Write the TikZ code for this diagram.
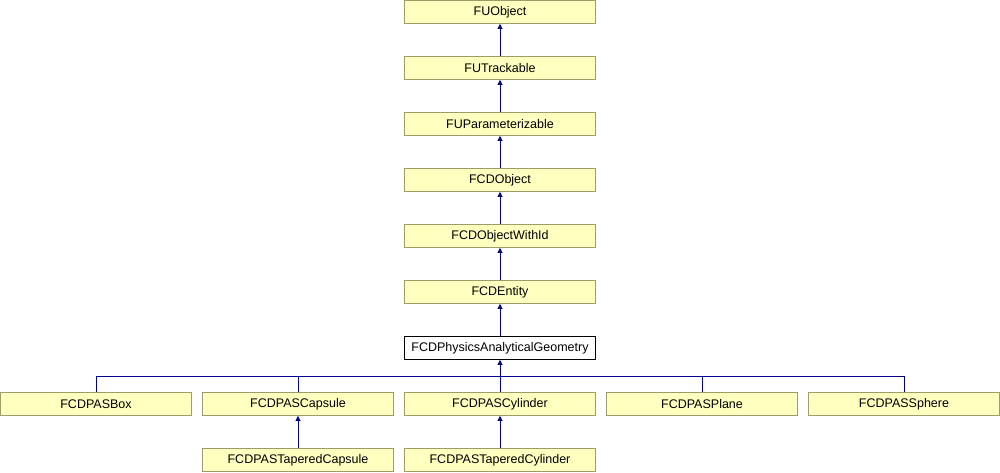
\documentclass[tikz,border=0pt]{standalone}
\usepackage{fontspec}
\setmainfont{Liberation Sans}
\usetikzlibrary{arrows.meta, positioning, calc}
\definecolor{boxfill}{RGB}{255,255,192}
\definecolor{boxline}{RGB}{156,156,104}
\definecolor{linkblue}{RGB}{0,0,140}

\begin{document}
\begin{tikzpicture}[
  x=1pt, y=1pt,
  node distance=32.1pt and 10.1pt,
  every node/.style={font=\fontsize{12.5}{14}\selectfont},
  cls/.style={draw=boxline, fill=boxfill, minimum width=191pt, minimum height=23pt,
              inner sep=0pt, line width=0.9pt},
  focus/.style={cls, draw=black, fill=white},
  arr/.style={-{Triangle[length=5pt, width=5pt]}, draw=linkblue, line width=0.9pt},
  bus/.style={draw=linkblue, line width=0.9pt},
]
  \useasboundingbox (0,0) rectangle (1000,-472);

  \node[cls] (fuobj) at (500,-12) {FUObject};
  \node[cls, below=of fuobj]    (futrack) {FUTrackable};
  \node[cls, below=of futrack]  (fuparam) {FUParameterizable};
  \node[cls, below=of fuparam]  (fcdobj)  {FCDObject};
  \node[cls, below=of fcdobj]   (fcdid)   {FCDObjectWithId};
  \node[cls, below=of fcdid]    (entity)  {FCDEntity};
  \node[focus, below=of entity] (geom)    {FCDPhysicsAnalyticalGeometry};

  % shape classes
  \node[cls, below=of geom]         (cylinder) {FCDPASCylinder};
  \node[cls, left=of cylinder]      (capsule)  {FCDPASCapsule};
  \node[cls, left=of capsule]       (box)      {FCDPASBox};
  \node[cls, right=of cylinder]     (plane)    {FCDPASPlane};
  \node[cls, right=of plane]        (sphere)   {FCDPASSphere};
  \node[cls, below=of capsule]      (tcapsule) {FCDPASTaperedCapsule};
  \node[cls, below=of cylinder]     (tcylinder){FCDPASTaperedCylinder};

  \draw[arr] (futrack) -- (fuobj);
  \draw[arr] (fuparam) -- (futrack);
  \draw[arr] (fcdobj)  -- (fuparam);
  \draw[arr] (fcdid)   -- (fcdobj);
  \draw[arr] (entity)  -- (fcdid);
  \draw[arr] (geom)    -- (entity);

  \coordinate (split) at ($(cylinder.north)+(0,16)$);
  \draw[bus] (box.north) |- (split) -| (sphere.north);
  \draw[bus] (capsule.north) -- (capsule.north |- split);
  \draw[bus] (plane.north) -- (plane.north |- split);
  \draw[bus] (cylinder.north) -- (split);
  \draw[arr] (split) -- (geom);

  \draw[arr] (tcapsule)  -- (capsule);
  \draw[arr] (tcylinder) -- (cylinder);
\end{tikzpicture}
\end{document}
